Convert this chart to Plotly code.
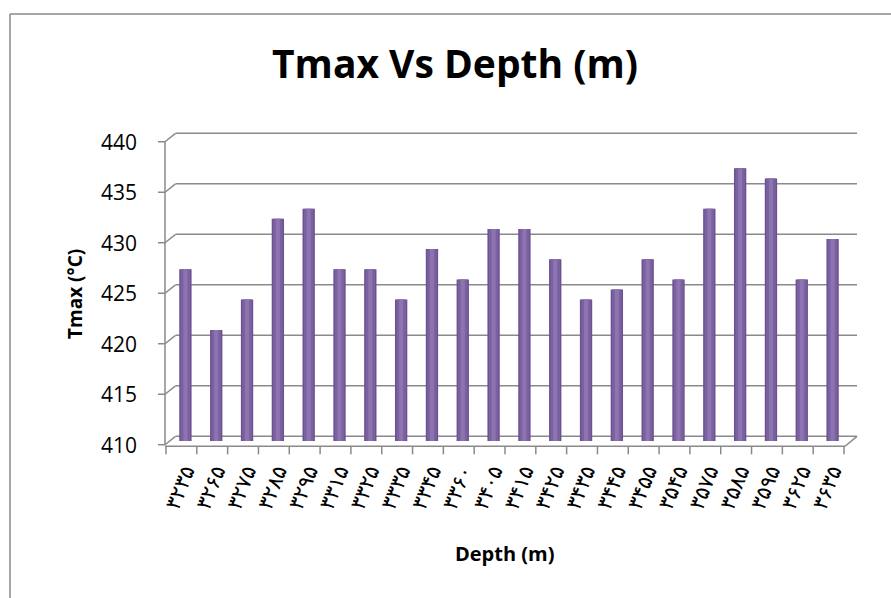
import plotly.graph_objects as go

# Depth labels (Persian digits) and Tmax values
depth_labels = ["۳۲۳۵", "۳۲۶۵", "۳۲۷۵", "۳۲۸۵", "۳۲۹۵", "۳۳۱۵", "۳۳۲۵", "۳۳۳۵",
                "۳۳۴۵", "۳۳۶۰", "۳۴۰۵", "۳۴۱۵", "۳۴۲۵", "۳۴۳۵", "۳۴۴۵", "۳۴۵۵",
                "۳۵۴۵", "۳۵۷۵", "۳۵۸۵", "۳۵۹۵", "۳۶۲۵", "۳۶۳۵"]
tmax = [427, 421, 424, 432, 433, 427, 427, 424, 429, 426, 431,
        431, 428, 424, 425, 428, 426, 433, 437, 436, 426, 430]
y_ticks = [410, 415, 420, 425, 430, 435, 440]
Y_MIN, Y_MAX = 410, 440

W, H = 891, 598
ML, MR, MT, MB = 170, 43, 138, 157
PW = W - ML - MR
PH = H - MT - MB


def px(x):
    """pixel x -> paper x"""
    return (x - ML) / PW


def pyp(y):
    """pixel y -> paper y"""
    return (H - MB - y) / PH


def vy(v):
    """axis value -> paper y (same linear scale as the y axis)"""
    return (v - Y_MIN) / (Y_MAX - Y_MIN)


GRID = "#8a8a8a"
UNIT = 1 / (Y_MAX - Y_MIN)
FRONT = -0.37 * UNIT   # front edge of the pseudo-3D box
BACK = 0.46 * UNIT     # back wall offset
n = len(depth_labels)

fig = go.Figure()

# cylinder-like bars: dark rim, body, highlight
for width, color in [(0.40, "#6a518f"), (0.31, "#7c61a1"), (0.13, "#8c74b1")]:
    fig.add_trace(go.Bar(x=depth_labels, y=tmax, width=width,
                         marker=dict(color=color, line=dict(width=0)),
                         hoverinfo="x+y", showlegend=False))


def seg(x0, y0, x1, y1, layer="below"):
    return dict(type="line", xref="paper", yref="paper", layer=layer,
                x0=x0, y0=y0, x1=x1, y1=y1, line=dict(color=GRID, width=1.5))


shapes = []
# outer chart frame
shapes.append(seg(px(10), pyp(14), px(W + 5), pyp(14)))
shapes.append(seg(px(10), pyp(14), px(10), pyp(H + 5)))

# back wall gridlines, slanted connectors and front ticks
for v in y_ticks:
    shapes.append(seg(px(175.5), vy(v) + BACK, px(857), vy(v) + BACK))
    shapes.append(seg(px(165), vy(v) + FRONT, px(175.5), vy(v) + BACK))
    shapes.append(seg(px(158), vy(v) + FRONT, px(165), vy(v) + FRONT))
# front vertical axis
shapes.append(seg(px(165), vy(Y_MAX) + FRONT, px(165), vy(Y_MIN) + FRONT))
# floor front edge and right slant
floor = vy(Y_MIN) + FRONT - 0.15 * UNIT
shapes.append(seg(px(165), floor, px(845), floor))
shapes.append(seg(px(845), floor, px(857), vy(Y_MIN) + BACK))
# category boundary ticks on the floor edge
for i in range(n + 1):
    xb = i / n - 4 / PW
    shapes.append(seg(xb, floor, xb, floor - 0.8 * UNIT))

annotations = []
# y tick labels at the front edge
for v in y_ticks:
    annotations.append(dict(text=str(v), xref="paper", yref="paper", x=px(139), y=vy(v) + FRONT,
                            xanchor="right", yanchor="middle", showarrow=False,
                            font=dict(family="Open Sans", size=21, color="#000")))
annotations.append(dict(text="<b>Tmax Vs Depth (m)</b>", xref="paper", yref="paper",
                        x=px(455), y=pyp(62), xanchor="center", yanchor="middle",
                        showarrow=False, font=dict(family="Open Sans", size=39, color="#000")))
annotations.append(dict(text="<b>Depth (m)</b>", xref="paper", yref="paper",
                        x=px(505), y=pyp(553), xanchor="center", yanchor="middle",
                        showarrow=False, font=dict(family="Open Sans", size=20, color="#000")))
annotations.append(dict(text="<b>Tmax (°C)</b>", xref="paper", yref="paper",
                        x=px(75), y=pyp(294), xanchor="center", yanchor="middle", textangle=-90,
                        showarrow=False, font=dict(family="Open Sans", size=19, color="#000")))

fig.update_layout(
    width=W, height=H,
    margin=dict(l=ML, r=MR, t=MT, b=MB, pad=0),
    paper_bgcolor="white", plot_bgcolor="rgba(0,0,0,0)",
    barmode="overlay",
    shapes=shapes, annotations=annotations,
    xaxis=dict(type="category", showgrid=False, showline=False, zeroline=False,
               ticks="", tickangle=-68, ticklabelstandoff=13,
               tickfont=dict(family="DejaVu Sans", size=21, color="#000")),
    yaxis=dict(range=[Y_MIN, Y_MAX], showgrid=False, showline=False, zeroline=False,
               showticklabels=False, ticks=""),
)

fig.write_html("out.html")
